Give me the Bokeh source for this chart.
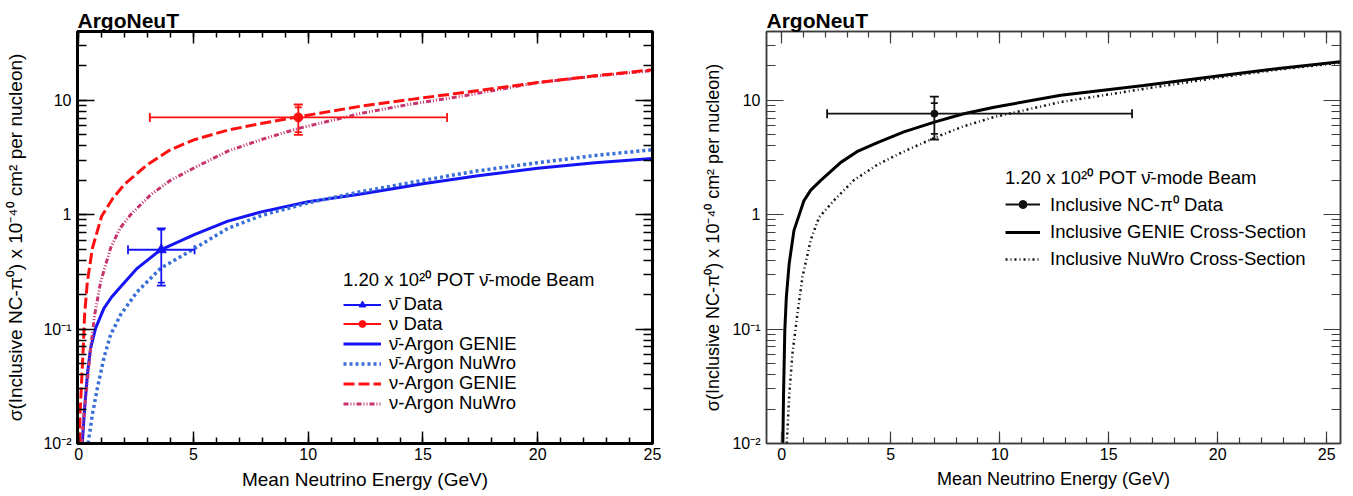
from bokeh.plotting import figure
from bokeh.models import (FixedTicker, LinearAxis, LogAxis, Legend, LegendItem,
                          Whisker, TeeHead, ColumnDataSource, Title)
from bokeh.layouts import row
from bokeh.embed import file_html
from bokeh.resources import INLINE

FONT = "Liberation Sans"
NUBAR = "\u03bd\u0304"
NU = "\u03bd"

# ---------------- data: left panel ----------------
nubar_E = [3.6]
nubar_xs = [0.494]
nubar_E_lo = [2.15]
nubar_E_hi = [5.05]
nubar_tot_lo = [0.24]
nubar_tot_hi = [0.76]
nubar_stat_lo = [0.255]
nubar_stat_hi = [0.74]

nu_E = [9.57]
nu_xs = [7.1]
nu_E_lo = [3.1]
nu_E_hi = [16.05]
nu_tot_lo = [5.0]
nu_tot_hi = [9.2]
nu_stat_lo = [5.28]
nu_stat_hi = [8.7]

nubar_genie_E = [0.16, 0.26, 0.38, 0.52, 0.74, 1.1, 1.43, 1.83, 2.55, 3.57, 5.04, 6.5, 7.96, 10.0, 12.3, 15.0, 17.4, 20.0, 22.5, 25.0]
nubar_genie_xs = [0.01, 0.0204, 0.040, 0.068, 0.102, 0.152, 0.19, 0.235, 0.34, 0.494, 0.67, 0.88, 1.06, 1.3, 1.52, 1.87, 2.19, 2.55, 2.85, 3.1]

nubar_nuwro_E = [0.41, 0.6, 0.81, 1.1, 1.39, 1.83, 2.55, 3.57, 5.0, 6.5, 8.0, 10.0, 12.3, 15.0, 17.4, 20.0, 22.5, 25.0]
nubar_nuwro_xs = [0.01, 0.018, 0.030, 0.056, 0.089, 0.134, 0.212, 0.34, 0.50, 0.76, 0.99, 1.27, 1.59, 2.0, 2.42, 2.85, 3.3, 3.7]

nu_genie_E = [0.03, 0.06, 0.13, 0.2, 0.26, 0.38, 0.6, 1.0, 1.5, 2.0, 3.0, 4.0, 5.0, 6.5, 8.0, 9.6, 12.3, 14.5, 16.6, 20.0, 22.5, 25.0]
nu_genie_xs = [0.01, 0.018, 0.035, 0.068, 0.134, 0.26, 0.51, 0.97, 1.4, 1.85, 2.75, 3.7, 4.5, 5.5, 6.3, 7.2, 8.9, 10.2, 11.6, 14.3, 16.4, 18.5]

nu_nuwro_E = [0.13, 0.23, 0.38, 0.52, 0.70, 0.96, 1.39, 1.8, 2.26, 3.13, 4.0, 5.0, 6.5, 8.0, 9.6, 12.3, 14.5, 16.6, 20.0, 22.5, 25.0]
nu_nuwro_xs = [0.01, 0.018, 0.035, 0.068, 0.134, 0.26, 0.51, 0.76, 1.0, 1.49, 2.0, 2.55, 3.6, 4.57, 5.7, 7.7, 9.3, 10.8, 14.3, 16.3, 18.2]

# ---------------- data: right panel ----------------
nc_E = [7.0]
nc_xs = [7.65]
nc_E_lo = [2.08]
nc_E_hi = [16.07]
nc_tot_lo = [4.55]
nc_tot_hi = [10.8]
nc_stat_lo = [5.1]
nc_stat_hi = [9.45]

genie_E = [0.05, 0.08, 0.11, 0.14, 0.21, 0.34, 0.56, 1.02, 1.33, 1.79, 2.71, 3.5, 4.39, 5.6, 7.0, 8.3, 9.74, 12.8, 16.6, 20.0, 23.0, 25.63]
genie_xs = [0.01, 0.026, 0.05, 0.098, 0.19, 0.374, 0.73, 1.33, 1.64, 2.0, 2.87, 3.6, 4.28, 5.3, 6.45, 7.6, 8.7, 11.1, 13.5, 16.3, 19.2, 21.8]

nuwro_E = [0.23, 0.34, 0.49, 0.72, 0.95, 1.33, 1.71, 2.39, 3.3, 4.4, 5.5, 7.0, 8.3, 9.74, 12.8, 16.6, 20.0, 23.0, 25.63]
nuwro_xs = [0.01, 0.026, 0.061, 0.137, 0.286, 0.60, 0.95, 1.33, 2.0, 2.75, 3.5, 4.7, 5.9, 7.15, 9.67, 12.6, 15.8, 18.8, 21.3]

# ---------------- axis ticks / labels ----------------
x_major = [0, 5, 10, 15, 20, 25]
x_minor = list(range(0, 26))
y_major = [0.01, 0.1, 1, 10]
y_minor = [m * 10.0 ** k for k in range(-2, 2) for m in range(1, 10)]
y_labels = {0.01: "10\u207b\u00b2", 0.1: "10\u207b\u00b9", 1: "1", 10: "10"}
x_title = "Mean Neutrino Energy (GeV)"
y_title = "\u03c3(Inclusive NC-\u03c0\u2070) x 10\u207b\u2074\u2070 cm\u00b2 per nucleon)"
legend_header = "1.20 x 10\u00b2\u2070 POT " + NUBAR + "-mode Beam"
panel_title = "ArgoNeuT"


def make_fig(xr, fw, bl, br, frame_col, frame_lw, tick_col, tick_lw,
             tick_fs, xlab_fs, ylab_fs, ylab_standoff):
    ttl = Title(text=panel_title, text_font=FONT, text_font_size="21px",
                text_font_style="bold", text_color="black", align="left", standoff=0)
    p = figure(frame_width=fw, frame_height=412, x_range=xr, y_range=(0.01, 40),
               y_axis_type="log", output_backend="svg", toolbar_location=None,
               min_border_left=bl, min_border_right=br, min_border_top=31,
               min_border_bottom=53, title=ttl)
    p.xgrid.visible = False
    p.ygrid.visible = False
    p.outline_line_color = frame_col
    p.outline_line_width = frame_lw
    p.background_fill_color = "white"
    p.border_fill_color = "white"

    def style(ax, ticker, maj, mnr):
        ax.ticker = ticker
        ax.major_tick_in = maj
        ax.major_tick_out = 0
        ax.minor_tick_in = mnr
        ax.minor_tick_out = 0
        ax.axis_line_color = frame_col
        ax.axis_line_width = frame_lw
        ax.major_tick_line_color = tick_col
        ax.major_tick_line_width = tick_lw
        ax.minor_tick_line_color = tick_col
        ax.minor_tick_line_width = tick_lw
        ax.major_label_text_font = FONT
        ax.major_label_text_color = "black"
        ax.axis_label_text_font = FONT
        ax.axis_label_text_font_style = "normal"
        ax.axis_label_text_color = "black"

    xt = FixedTicker(ticks=x_major, minor_ticks=x_minor)
    yt = FixedTicker(ticks=y_major, minor_ticks=y_minor)

    xa = p.xaxis[0]
    style(xa, xt, 12, 6)
    xa.major_label_text_font_size = tick_fs
    xa.major_label_standoff = 4
    xa.axis_label = x_title
    xa.axis_label_text_font_size = xlab_fs
    xa.axis_label_standoff = 6

    ya = p.yaxis[0]
    style(ya, yt, 17, 9)
    ya.major_label_text_font_size = tick_fs
    ya.major_label_standoff = 6
    ya.major_label_overrides = y_labels
    ya.axis_label = y_title
    ya.axis_label_text_font_size = ylab_fs
    ya.axis_label_standoff = ylab_standoff

    # mirrored tick marks on the top and right edges (no labels)
    xt2 = LinearAxis()
    style(xt2, FixedTicker(ticks=x_major, minor_ticks=x_minor), 12, 6)
    xt2.major_label_overrides = {t: "" for t in x_major}
    xt2.major_label_text_font_size = "1px"
    xt2.major_label_standoff = 0
    p.add_layout(xt2, "above")
    yr2 = LogAxis()
    style(yr2, FixedTicker(ticks=y_major, minor_ticks=y_minor), 17, 9)
    yr2.major_label_overrides = {t: "" for t in y_major}
    yr2.major_label_text_font_size = "1px"
    yr2.major_label_standoff = 0
    p.add_layout(yr2, "right")
    return p


def error_bars(p, E, xs, Elo, Ehi, tlo, thi, slo, shi, color, lw):
    src = ColumnDataSource(dict(E=E, xs=xs, Elo=Elo, Ehi=Ehi, tlo=tlo, thi=thi, slo=slo, shi=shi))
    hr = p.segment(x0="Elo", y0="xs", x1="Ehi", y1="xs", source=src, line_color=color, line_width=lw)
    p.segment(x0="E", y0="tlo", x1="E", y1="thi", source=src, line_color=color, line_width=lw)
    p.add_layout(Whisker(source=src, base="xs", lower="Elo", upper="Ehi", dimension="width",
                         line_alpha=0,
                         lower_head=TeeHead(size=9, line_color=color, line_width=lw),
                         upper_head=TeeHead(size=9, line_color=color, line_width=lw)))
    p.add_layout(Whisker(source=src, base="E", lower="tlo", upper="thi", dimension="height",
                         line_alpha=0,
                         lower_head=TeeHead(size=9, line_color=color, line_width=lw),
                         upper_head=TeeHead(size=9, line_color=color, line_width=lw)))
    p.add_layout(Whisker(source=src, base="E", lower="slo", upper="shi", dimension="height",
                         line_alpha=0,
                         lower_head=TeeHead(size=7, line_color=color, line_width=lw),
                         upper_head=TeeHead(size=7, line_color=color, line_width=lw)))
    return src, hr


def style_legend(lg, fs, gw, gh, standoff, spacing):
    lg.label_text_font = FONT
    lg.label_text_font_size = fs
    lg.label_text_color = "black"
    lg.title_text_font = FONT
    lg.title_text_font_size = fs
    lg.title_text_font_style = "normal"
    lg.title_text_color = "black"
    lg.title_standoff = 2
    lg.glyph_width = gw
    lg.glyph_height = gh
    lg.label_height = gh
    lg.label_standoff = standoff
    lg.spacing = spacing
    lg.padding = 0
    lg.margin = 0
    lg.border_line_alpha = 0
    lg.background_fill_alpha = 0


# ================= left panel =================
p1 = make_fig((-0.05, 25), 575, 77, 38, "black", 3, "black", 1.5, "16px", "19px", "19px", 14)

BLUE = "#1414f5"
BLUE_DOT = "#3a6fd8"
RED = "#ff1010"
MAG = "#c8346e"

r_nb_genie = p1.line(nubar_genie_E, nubar_genie_xs, line_color=BLUE, line_width=3)
r_nb_nuwro = p1.line(nubar_nuwro_E, nubar_nuwro_xs, line_color=BLUE_DOT, line_width=3.5, line_dash="3 3")
r_nu_nuwro = p1.line(nu_nuwro_E, nu_nuwro_xs, line_color=MAG, line_width=3, line_dash="5 2 1 2 1 2")
r_nu_genie = p1.line(nu_genie_E, nu_genie_xs, line_color=RED, line_width=3, line_dash="11 4")

nb_src, nb_h = error_bars(p1, nubar_E, nubar_xs, nubar_E_lo, nubar_E_hi, nubar_tot_lo, nubar_tot_hi,
                          nubar_stat_lo, nubar_stat_hi, BLUE, 1.8)
nb_pt = p1.scatter("E", "xs", source=nb_src, marker="triangle", size=10, color=BLUE)
nu_src, nu_h = error_bars(p1, nu_E, nu_xs, nu_E_lo, nu_E_hi, nu_tot_lo, nu_tot_hi,
                          nu_stat_lo, nu_stat_hi, RED, 1.8)
nu_pt = p1.scatter("E", "xs", source=nu_src, marker="circle", size=9, color=RED)

left_items = [
    LegendItem(label=NUBAR + " Data", renderers=[nb_h, nb_pt]),
    LegendItem(label=NU + " Data", renderers=[nu_h, nu_pt]),
    LegendItem(label=NUBAR + "-Argon GENIE", renderers=[r_nb_genie]),
    LegendItem(label=NUBAR + "-Argon NuWro", renderers=[r_nb_nuwro]),
    LegendItem(label=NU + "-Argon GENIE", renderers=[r_nu_genie]),
    LegendItem(label=NU + "-Argon NuWro", renderers=[r_nu_nuwro]),
]
# one small legend per row so that the row pitch matches the original (about 19.8 px)
row_pitch = 19.8
first_row_from_bottom = 139 - 11   # centre of first row is 139 px above the frame bottom
for i, it in enumerate(left_items):
    lg = Legend(items=[it], location=(266, first_row_from_bottom - row_pitch * i),
                title=legend_header if i == 0 else None)
    style_legend(lg, "18.5px", 38, 17, 8, 0)
    p1.add_layout(lg)

# ================= right panel =================
p2 = make_fig((-0.7, 25.63), 574, 76, 13, "#3c3c3c", 1.5, "#3c3c3c", 1.2, "16px", "18px", "18px", 6)

r_genie = p2.line(genie_E, genie_xs, line_color="black", line_width=3)
r_nuwro = p2.line(nuwro_E, nuwro_xs, line_color="#111111", line_width=2.5, line_dash="2 3 1 3")
nc_src, nc_h = error_bars(p2, nc_E, nc_xs, nc_E_lo, nc_E_hi, nc_tot_lo, nc_tot_hi,
                          nc_stat_lo, nc_stat_hi, "#111111", 1.8)
nc_pt = p2.scatter("E", "xs", source=nc_src, marker="circle", size=7, color="#111111")

lg2 = Legend(items=[
    LegendItem(label="Inclusive NC-\u03c0\u2070 Data", renderers=[nc_h, nc_pt]),
    LegendItem(label="Inclusive GENIE Cross-Section", renderers=[r_genie]),
    LegendItem(label="Inclusive NuWro Cross-Section", renderers=[r_nuwro]),
], location=(239, 173), title=legend_header)
style_legend(lg2, "18.5px", 35, 20, 10, 5)
p2.add_layout(lg2)

layout = row(p1, p2)
open("out.html", "w").write(file_html(layout, INLINE))
